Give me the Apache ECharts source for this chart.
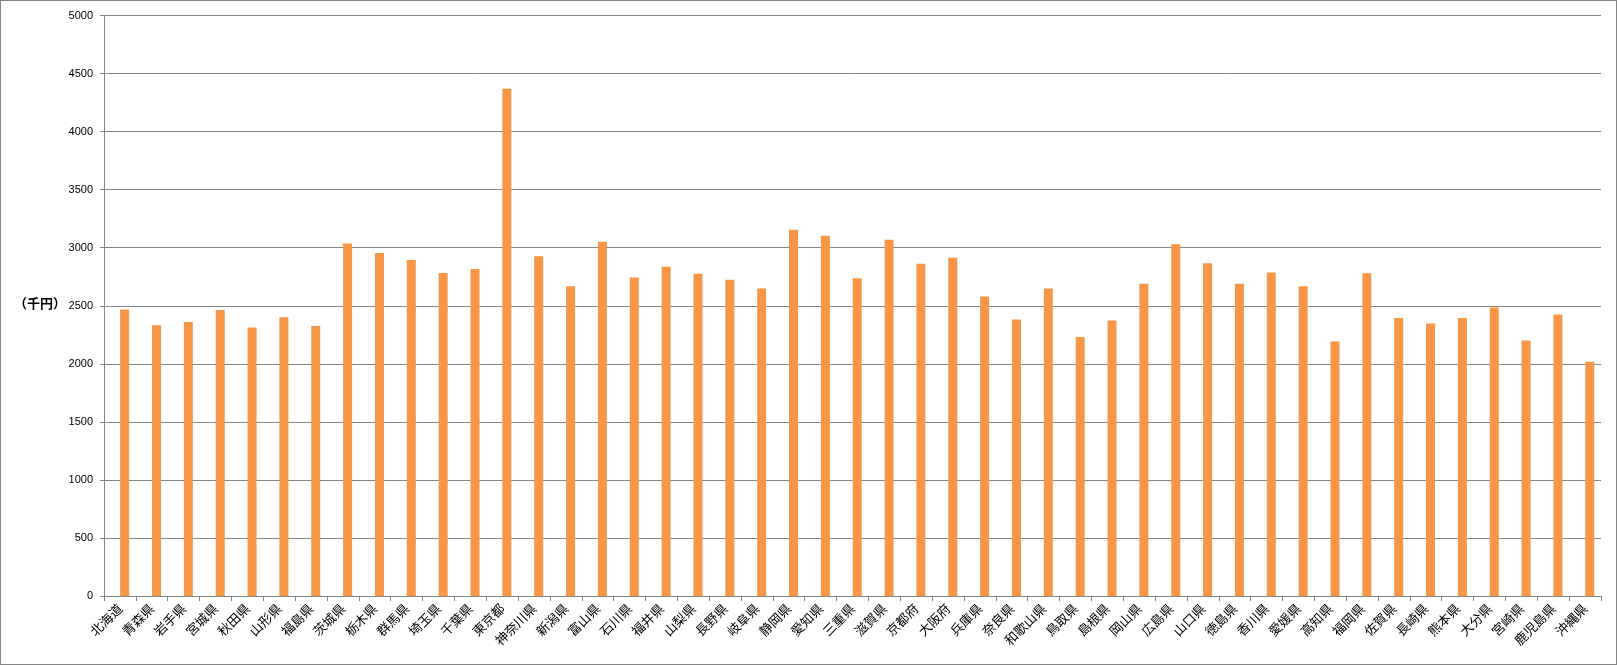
<!DOCTYPE html>
<html>
<head>
<meta charset="utf-8">
<script src="https://cdn.jsdelivr.net/npm/echarts@6/dist/echarts.min.js"></script>
<style>
html,body{margin:0;padding:0;background:#fff;}
#wrap{position:relative;width:1617px;height:665px;}
#c{width:1617px;height:665px;}
#frame{position:absolute;left:0;top:0;width:1615px;height:663px;border:1px solid #868686;pointer-events:none;}
</style>
</head>
<body>
<div id="wrap"><div id="c"></div><div id="frame"></div></div>
<script>
const categories = ['北海道','青森県','岩手県','宮城県','秋田県','山形県','福島県','茨城県','栃木県','群馬県','埼玉県','千葉県','東京都','神奈川県','新潟県','富山県','石川県','福井県','山梨県','長野県','岐阜県','静岡県','愛知県','三重県','滋賀県','京都府','大阪府','兵庫県','奈良県','和歌山県','鳥取県','島根県','岡山県','広島県','山口県','徳島県','香川県','愛媛県','高知県','福岡県','佐賀県','長崎県','熊本県','大分県','宮崎県','鹿児島県','沖縄県'];
const values = [2468,2333,2359,2463,2313,2402,2325,3037,2954,2894,2782,2816,4370,2927,2667,3052,2744,2836,2776,2724,2649,3155,3103,2736,3069,2862,2914,2580,2382,2649,2230,2374,2690,3029,2865,2690,2787,2667,2193,2779,2394,2348,2394,2486,2201,2425,2017];
const emptySeries = [];
const yTicks = {min:0, max:5000, interval:500};
const unitLabel = '（千円）';

const chart = echarts.init(document.getElementById('c'), null, {renderer:'canvas'});
chart.setOption({
  animation:false,
  backgroundColor:'#fff',
  grid:{left:104, right:16, top:15.5, bottom:69, containLabel:false},
  xAxis:{
    type:'category',
    data:categories,
    boundaryGap:true,
    axisLine:{lineStyle:{color:'#868686', width:1}},
    axisTick:{show:true, alignWithLabel:false, length:5, lineStyle:{color:'#868686'}},
    axisLabel:{rotate:45, interval:0, color:'#000', fontSize:13, fontFamily:'"Noto Sans CJK JP", sans-serif', margin:10}
  },
  yAxis:{
    type:'value',
    min:yTicks.min, max:yTicks.max, interval:yTicks.interval,
    axisLine:{show:true, lineStyle:{color:'#868686', width:1}},
    axisTick:{show:true, length:4, lineStyle:{color:'#868686'}},
    splitLine:{show:true, lineStyle:{color:'#868686', width:1}},
    axisLabel:{color:'#000', fontSize:11, fontFamily:'Arial, "Liberation Sans", sans-serif', margin:11, formatter:function(v){return String(v);}}
  },
  series:[
    {type:'bar', name:'spacer', data:emptySeries, barWidth:9, barGap:'5%'},
    {type:'bar', name:'value', data:values, barWidth:9, barGap:'5%', itemStyle:{color:'#F79646'}}
  ],
  graphic:[
    {type:'text', left:14, top:297, style:{text:unitLabel, fill:'#000', font:'bold 13px "Noto Sans CJK JP", sans-serif'}}
  ]
});
</script>
</body>
</html>
